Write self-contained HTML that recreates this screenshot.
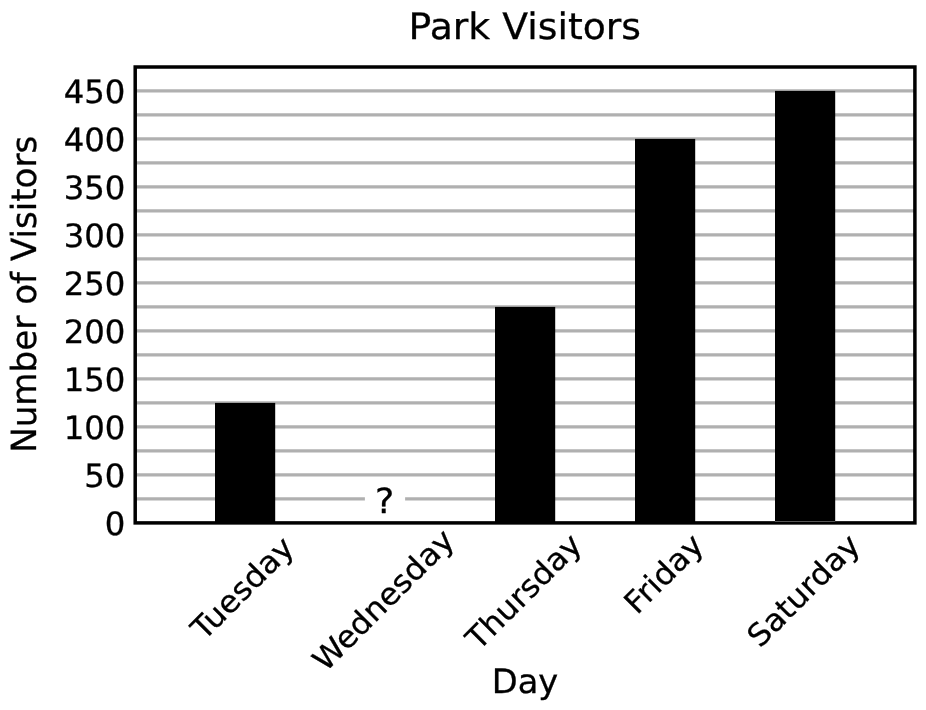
<!DOCTYPE html>
<html lang="en">
<head>
<meta charset="utf-8">
<title>Park Visitors</title>
<style>
html, body { margin: 0; padding: 0; background: #ffffff; }
body { width: 926px; height: 710px; overflow: hidden; }
svg { display: block; will-change: transform; }
text { font-family: "DejaVu Sans", "Liberation Sans", sans-serif; fill: #000000; stroke: #000000; stroke-width: 0.3px; stroke-linejoin: round; text-rendering: geometricPrecision; }
</style>
</head>
<body>
<svg width="926" height="710" viewBox="0 0 926 710">
<rect x="0" y="0" width="926" height="710" fill="#ffffff"/>
<g stroke="#b0b0b0" stroke-width="3.4" fill="none">
<line x1="135.2" y1="498.9" x2="914.9" y2="498.9"/>
<line x1="135.2" y1="474.9" x2="914.9" y2="474.9"/>
<line x1="135.2" y1="450.9" x2="914.9" y2="450.9"/>
<line x1="135.2" y1="426.9" x2="914.9" y2="426.9"/>
<line x1="135.2" y1="402.9" x2="914.9" y2="402.9"/>
<line x1="135.2" y1="378.9" x2="914.9" y2="378.9"/>
<line x1="135.2" y1="354.9" x2="914.9" y2="354.9"/>
<line x1="135.2" y1="330.9" x2="914.9" y2="330.9"/>
<line x1="135.2" y1="306.9" x2="914.9" y2="306.9"/>
<line x1="135.2" y1="282.9" x2="914.9" y2="282.9"/>
<line x1="135.2" y1="258.9" x2="914.9" y2="258.9"/>
<line x1="135.2" y1="234.9" x2="914.9" y2="234.9"/>
<line x1="135.2" y1="210.9" x2="914.9" y2="210.9"/>
<line x1="135.2" y1="186.9" x2="914.9" y2="186.9"/>
<line x1="135.2" y1="162.9" x2="914.9" y2="162.9"/>
<line x1="135.2" y1="138.9" x2="914.9" y2="138.9"/>
<line x1="135.2" y1="114.9" x2="914.9" y2="114.9"/>
<line x1="135.2" y1="90.9" x2="914.9" y2="90.9"/>
</g>
<g fill="#000000">
<rect x="215" y="402.9" width="60.2" height="120.0"/>
<rect x="495" y="306.9" width="60.2" height="216.0"/>
<rect x="635" y="138.9" width="60.2" height="384.0"/>
<rect x="775" y="90.9" width="60.2" height="432.0"/>
</g>
<rect x="364.9" y="486" width="40.2" height="30" fill="#ffffff"/>
<text transform="translate(384.7 513.05) scale(1.05 1)" font-size="34.6" text-anchor="middle">?</text>
<rect x="135.2" y="67.0" width="779.7" height="455.9" fill="none" stroke="#000000" stroke-width="3.5"/>
<rect x="775" y="521.05" width="60.2" height="0.35" fill="#ffffff"/>
<text transform="translate(524.8 38.55) scale(1.038 1)" font-size="36.4" text-anchor="middle">Park Visitors</text>
<g font-size="32.1" text-anchor="end">
<text transform="translate(125.35 535.0) scale(1.007 1)">0</text>
<text transform="translate(125.35 487.0) scale(1.007 1)">50</text>
<text transform="translate(125.35 439.0) scale(1.007 1)">100</text>
<text transform="translate(125.35 391.0) scale(1.007 1)">150</text>
<text transform="translate(125.35 343.0) scale(1.007 1)">200</text>
<text transform="translate(125.35 295.0) scale(1.007 1)">250</text>
<text transform="translate(125.35 247.0) scale(1.007 1)">300</text>
<text transform="translate(125.35 199.0) scale(1.007 1)">350</text>
<text transform="translate(125.35 151.0) scale(1.007 1)">400</text>
<text transform="translate(125.35 103.0) scale(1.007 1)">450</text>
</g>
<text transform="translate(35.65 294.25) rotate(-90) scale(0.987 1)" font-size="34.6" text-anchor="middle">Number of Visitors</text>
<g font-size="30.7" text-anchor="middle">
<text transform="translate(250 595.5) rotate(-45) scale(1.04 1)">Tuesday</text>
<text transform="translate(390.8 607.5) rotate(-45) scale(1.04 1)">Wednesday</text>
<text transform="translate(531.2 599.1) rotate(-45) scale(1.04 1)">Thursday</text>
<text transform="translate(671.2 581.2) rotate(-45) scale(1.04 1)">Friday</text>
<text transform="translate(810.9 598) rotate(-45) scale(1.04 1)">Saturday</text>
</g>
<text transform="translate(525.0 692.65) scale(1.002 1)" font-size="33.6" text-anchor="middle">Day</text>
</svg>
</body>
</html>
